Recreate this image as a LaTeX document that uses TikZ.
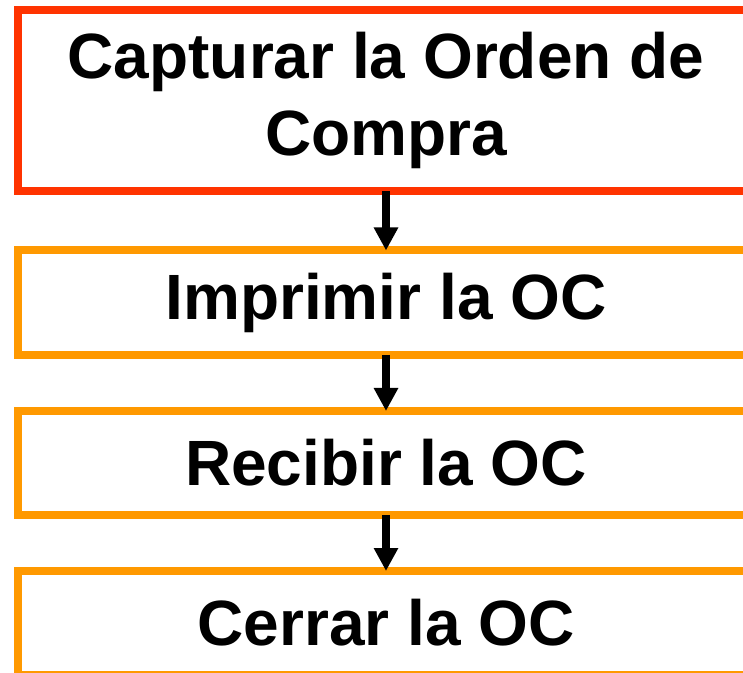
\documentclass[tikz,border=0pt]{standalone}
\usepackage{fontspec}
\setmainfont{Liberation Sans}
\usepackage{xcolor}
\usepackage{tikz}
\definecolor{ocred}{RGB}{255, 51, 0}
\definecolor{ocorange}{RGB}{255, 153, 0}
\usetikzlibrary{arrows.meta, positioning}
\tikzset{
    pasobox/.style={draw=ocorange, fill=white, line width=8pt, outer sep=0pt,
        minimum width=736pt, align=center, inner sep=0pt,
        font=\fontsize{64}{77}\selectfont\bfseries},
    flecha/.style={-{Triangle[length=23pt,width=23pt]}, line width=7.5pt, black}
}
\begin{document}
\begin{tikzpicture}
    \useasboundingbox (0,0) rectangle (743pt,672pt);
    \clip (0,0) rectangle (743pt,672pt);
    \node[pasobox, draw=ocred, minimum height=181.5pt] (capturar) at (386pt,571.25pt) {Capturar la Orden de\\Compra};
    \node[pasobox, minimum height=104.5pt, below=59pt of capturar] (imprimir) {Imprimir la OC};
    \node[pasobox, minimum height=104pt, below=56pt of imprimir] (recibir) {Recibir la OC};
    \node[pasobox, minimum height=104pt, below=56pt of recibir] (cerrar) {Cerrar la OC};
    \draw[flecha] (capturar.south) -- (imprimir.north);
    \draw[flecha] (imprimir.south) -- (recibir.north);
    \draw[flecha] (recibir.south) -- (cerrar.north);
\end{tikzpicture}
\end{document}
